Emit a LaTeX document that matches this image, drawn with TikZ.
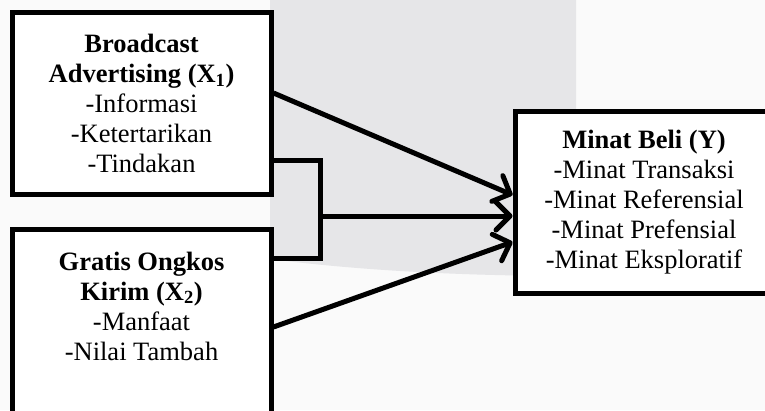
\documentclass[tikz,border=0pt]{standalone}
\usepackage{fontspec}
\setmainfont{Liberation Serif}
\usepackage{xcolor}
\usetikzlibrary{arrows.meta,calc,positioning}
\definecolor{markgrey}{HTML}{E6E6E8}
\definecolor{paper}{HTML}{FAFAFA}
\tikzset{
	varbox/.style={draw=black,fill=white,line width=5pt,rectangle,inner sep=0pt,align=center,font=\fontsize{26.5}{30}\selectfont},
	vartext/.style={inner sep=0pt,align=center,font=\fontsize{26.5}{30}\selectfont},
	link/.style={line width=5pt,-{Straight Barb[length=14pt,width=28pt,round]}},
	joint/.style={line width=5pt,line join=miter}
}

\begin{document}
\begin{tikzpicture}[x=1pt,y=-1pt]
\useasboundingbox (0,0) rectangle (765,410);
\clip (0,0) rectangle (765,410);
% background mark
\fill[paper] (0,0) rectangle (765,410);
\fill[markgrey] (270,0) -- (576,0) -- (576,276) .. controls (440,276) and (340,268) .. (270,259) -- cycle;
%
\node[varbox,minimum width=259,minimum height=181.5] (x1) at (141.5,103.25)
	{\textbf{Broadcast}\\\textbf{Advertising (X\textsubscript{1})}\\-Informasi\\-Ketertarikan\\-Tindakan};
\node[varbox,minimum width=259,minimum height=211] (x2) at (141.5,334.5) {};
\node[vartext,anchor=north] (x2lab) at ($(x2.north)+(0,25)$)
	{\textbf{Gratis Ongkos}\\\textbf{Kirim (X\textsubscript{2})}\\-Manfaat\\-Nilai Tambah};
\node[varbox,minimum width=258,minimum height=182] (y) at (644,202)
	{\textbf{Minat Beli (Y)}\\-Minat Transaksi\\-Minat Referensial\\-Minat Prefensial\\-Minat Eksploratif};
%
\coordinate (x1out) at (x1.east |- 0,93);
\coordinate (x1mid) at (x1.east |- 0,160);
\coordinate (x2mid) at (x2.east |- 0,258);
\coordinate (x2out) at (x2.east |- 0,327);
\coordinate (jtop) at (320,160);
\coordinate (jbot) at (320,258);
\coordinate (jc) at (320,216);
\coordinate (yin1) at (y.west |- 0,195);
\coordinate (yin2) at (y.west |- 0,216);
\coordinate (yin3) at (y.west |- 0,242);
%
\draw[joint] (x1mid) to (jtop) to (jbot) to (x2mid);
\draw[link] (x1out) to (yin1);
\draw[link] (jc) to (yin2);
\draw[link] (x2out) to (yin3);
\end{tikzpicture}
\end{document}
